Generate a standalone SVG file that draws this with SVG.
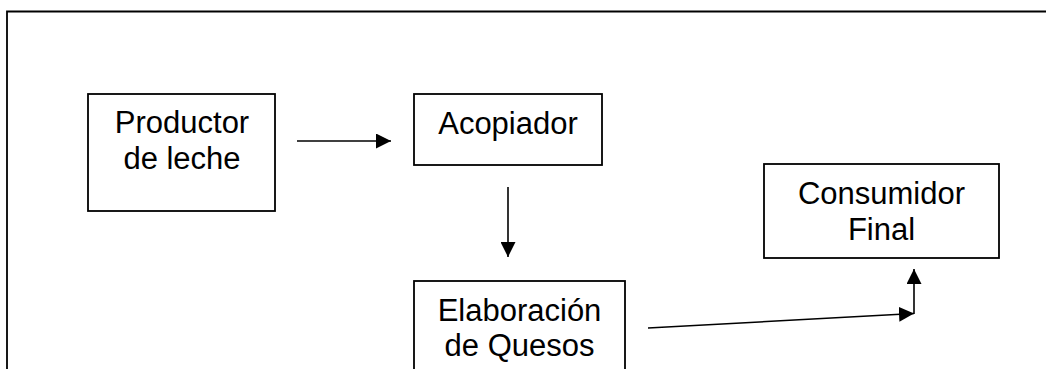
<svg xmlns="http://www.w3.org/2000/svg" width="1046" height="369" viewBox="0 0 1046 369">
  <style>
    .box { fill: #ffffff; stroke: #000000; stroke-width: 1.8; }
    .lbl { font-family: "Liberation Sans", Arial, sans-serif; font-size: 31px; fill: #000000; text-anchor: middle; }
    .conn { fill: none; stroke: #000000; stroke-width: 1.6; marker-end: url(#arrow); }
    .frame { fill: none; stroke: #000000; stroke-width: 1.8; }
  </style>
  <defs>
    <marker id="arrow" markerUnits="userSpaceOnUse" markerWidth="16" markerHeight="15" refX="15" refY="7.5" orient="auto">
      <path d="M0,0 L15,7.5 L0,15 Z" fill="#000000"/>
    </marker>
  </defs>
  <rect x="0" y="0" width="1046" height="369" fill="#ffffff"/>
  <path class="frame" d="M7,369 V11.5 H1046"/>

  <g id="productor">
    <rect class="box" x="88" y="94" width="187" height="117"/>
    <text class="lbl" x="182" y="133">Productor</text>
    <text class="lbl" x="182" y="169">de leche</text>
  </g>
  <g id="acopiador">
    <rect class="box" x="414" y="94" width="188" height="71"/>
    <text class="lbl" x="508" y="134">Acopiador</text>
  </g>
  <g id="elaboracion">
    <rect class="box" x="414" y="281" width="211" height="100"/>
    <text class="lbl" x="519.5" y="321">Elaboración</text>
    <text class="lbl" x="519.5" y="356">de Quesos</text>
  </g>
  <g id="consumidor">
    <rect class="box" x="764" y="164" width="235" height="94"/>
    <text class="lbl" x="881.5" y="204">Consumidor</text>
    <text class="lbl" x="881.5" y="240">Final</text>
  </g>

  <g id="connectors">
    <line class="conn" x1="297" y1="141" x2="391" y2="141"/>
    <line class="conn" x1="508" y1="187" x2="508" y2="257"/>
    <line class="conn" x1="648" y1="328" x2="914" y2="313.5"/>
    <line class="conn" x1="914" y1="314" x2="914" y2="269"/>
  </g>
</svg>
